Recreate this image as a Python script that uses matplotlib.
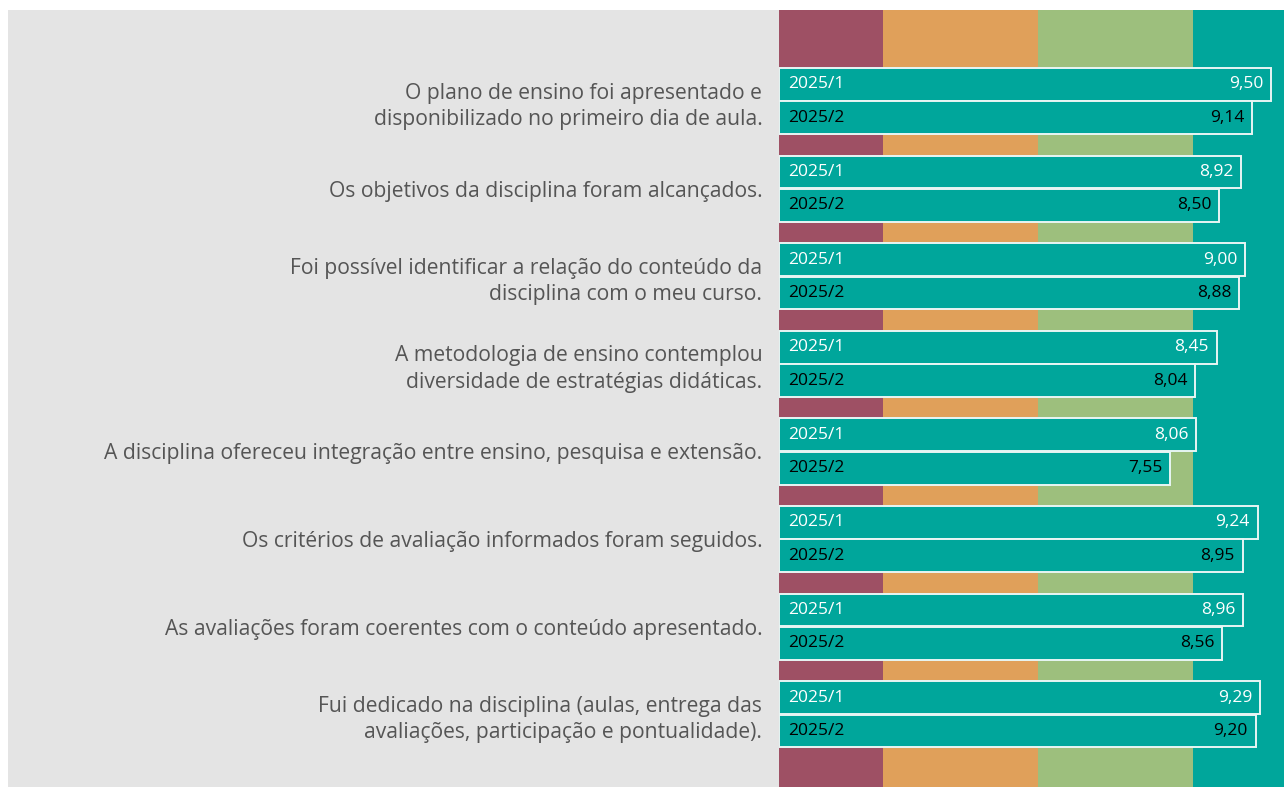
import matplotlib.pyplot as plt
from matplotlib.patches import Rectangle
import numpy as np

# dados
perguntas = [
    "O plano de ensino foi apresentado e\ndisponibilizado no primeiro dia de aula.",
    "Os objetivos da disciplina foram alcançados.",
    "Foi possível identificar a relação do conteúdo da\ndisciplina com o meu curso.",
    "A metodologia de ensino contemplou\ndiversidade de estratégias didáticas.",
    "A disciplina ofereceu integração entre ensino, pesquisa e extensão.",
    "Os critérios de avaliação informados foram seguidos.",
    "As avaliações foram coerentes com o conteúdo apresentado.",
    "Fui dedicado na disciplina (aulas, entrega das\navaliações, participação e pontualidade).",
]
notas_2025_1 = [9.50, 8.92, 9.00, 8.45, 8.06, 9.24, 8.96, 9.29]
notas_2025_2 = [9.14, 8.50, 8.88, 8.04, 7.55, 8.95, 8.56, 9.20]
semestres = ["2025/1", "2025/2"]

# faixas de fundo
faixas = [(0, 2), (2, 5), (5, 8), (8, 10)]
cores_faixas = ["#9e5064", "#e0a05a", "#9dbf7d", "#00a69b"]

TEAL = "#00a69b"
FONTE = "Open Sans"
plt.rcParams["font.family"] = [FONTE, "DejaVu Sans"]

fig = plt.figure(figsize=(12.84, 7.87), dpi=100)
fig.patch.set_facecolor("white")

# painel cinza (atrás dos eixos)
fig.patches.append(Rectangle((8 / 1284, 0), (779 - 8) / 1284, 777 / 787,
                             transform=fig.transFigure, facecolor="#e4e4e4",
                             edgecolor="none", zorder=-1))

ax = fig.add_axes([779 / 1284, 0, 505 / 1284, 777 / 787])
ax.set_zorder(1)
ax.set_xlim(0, 9.75)
ax.set_ylim(7.83, -1.04)

for (a, b), c in zip(faixas, cores_faixas):
    ax.axvspan(a, b, color=c, zorder=0, lw=0)

y = np.arange(len(perguntas))
h = 0.375
off = 0.19
for serie, vals, cor_txt in [(0, notas_2025_1, "white"), (1, notas_2025_2, "black")]:
    pos = y - off if serie == 0 else y + off
    ax.barh(pos, vals, height=h, color=TEAL, edgecolor="#e8f6f4",
            linewidth=1.4, zorder=2)
    for p, v in zip(pos, vals):
        ax.text(0.17, p, semestres[serie], color=cor_txt, fontsize=12.5,
                va="center", ha="left", zorder=3)
        ax.text(v - 0.15, p, f"{v:.2f}".replace(".", ","), color=cor_txt,
                fontsize=12.5, va="center", ha="right", zorder=3)

ax.set_yticks(y)
ax.set_yticklabels(perguntas, fontsize=15.2, color="#555555", linespacing=1.35)
ax.tick_params(axis="y", length=0, pad=12)
ax.set_xticks([])
for s in ax.spines.values():
    s.set_visible(False)

fig.savefig("out.png", dpi=100)
